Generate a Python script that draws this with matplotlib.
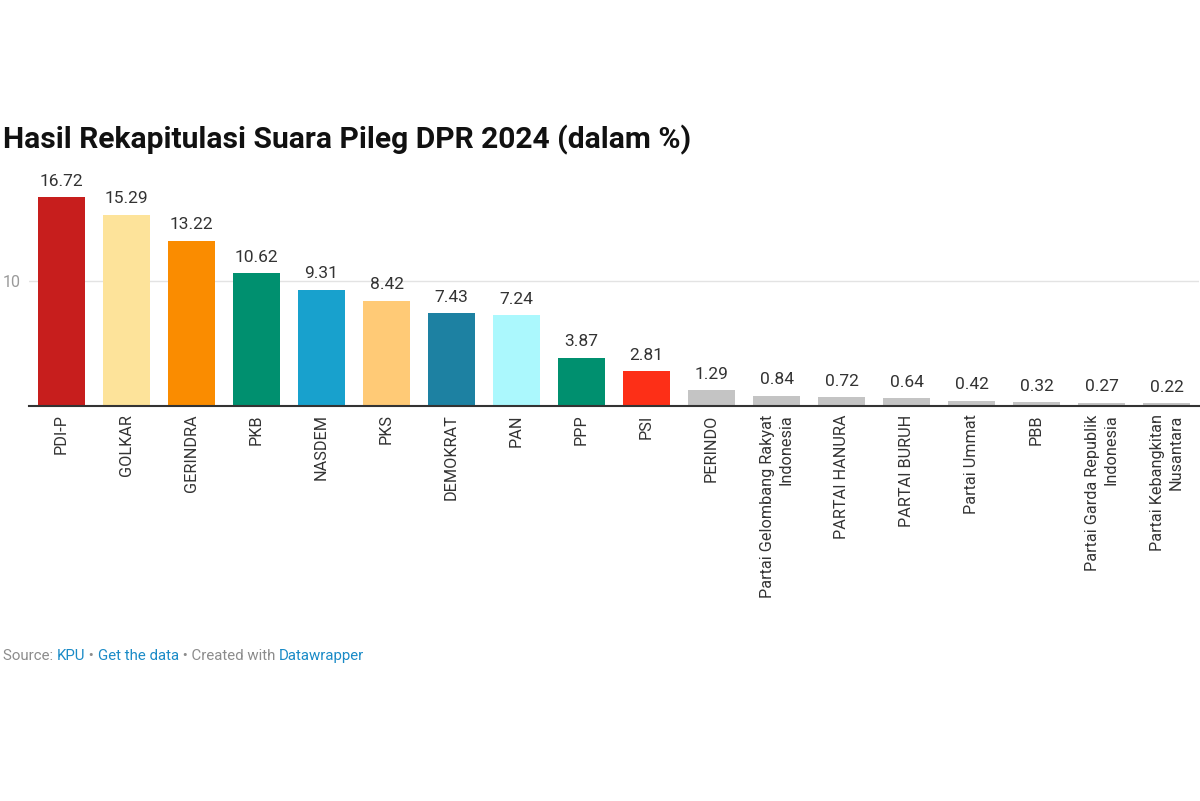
import matplotlib
matplotlib.use("Agg")
import matplotlib.pyplot as plt

plt.rcParams['font.family'] = ['Roboto', 'DejaVu Sans']

parties = ["PDI-P", "GOLKAR", "GERINDRA", "PKB", "NASDEM", "PKS", "DEMOKRAT",
           "PAN", "PPP", "PSI", "PERINDO", "Partai Gelombang Rakyat\nIndonesia",
           "PARTAI HANURA", "PARTAI BURUH", "Partai Ummat", "PBB",
           "Partai Garda Republik\nIndonesia", "Partai Kebangkitan\nNusantara"]
votes = [16.72, 15.29, 13.22, 10.62, 9.31, 8.42, 7.43, 7.24, 3.87, 2.81,
         1.29, 0.84, 0.72, 0.64, 0.42, 0.32, 0.27, 0.22]
colors = ["#c71e1d", "#fde39a", "#fa8c00", "#00906f", "#18a1cd", "#ffca76",
          "#1d81a2", "#abf8fd", "#00906f", "#fd2f17"] + ["#c4c4c4"] * 8

fig = plt.figure(figsize=(12, 8.01), dpi=100)
ax = fig.add_axes([0.0242, 0.4931, 0.975, 0.281])

x = range(len(parties))
bars = ax.bar(x, votes, width=0.71, color=colors, zorder=2)
for b, v in zip(bars, votes):
    ax.annotate(f"{v:.2f}", (b.get_x() + b.get_width() / 2, v),
                xytext=(0, 6), textcoords="offset points",
                ha="center", va="bottom", fontsize=12.5, color="#333333")

ax.set_xlim(-0.5, len(parties) - 0.5)
ax.set_ylim(0, 18)
ax.set_yticks([10])
ax.grid(axis="y", color="#e3e3e3", linewidth=1, zorder=0)
ax.tick_params(axis="y", length=0, pad=6, labelsize=11.5, labelcolor="#9a9a9a")
ax.tick_params(axis="x", length=0, pad=6)
ax.set_xticks(list(x))
ax.set_xticklabels(parties, rotation=90, fontsize=11.7, color="#333333",
                   multialignment="right", linespacing=1.3)
for s in ["top", "right", "left"]:
    ax.spines[s].set_visible(False)
ax.spines["bottom"].set_color("#333333")
ax.spines["bottom"].set_linewidth(1.5)
ax.spines["bottom"].set_zorder(3)

fig.text(3 / 1200, 1 - 140 / 801, "Hasil Rekapitulasi Suara Pileg DPR 2024 (dalam %)",
         fontsize=21.6, fontweight="bold", color="#111111", va="center", ha="left")

# footer, pieces placed one after another
grey, blue = "#8c8c8c", "#1a8bc7"
parts = [("Source: ", grey), ("KPU", blue), (" • ", grey), ("Get the data", blue),
         (" • Created with ", grey), ("Datawrapper", blue)]
fig.canvas.draw()
r = fig.canvas.get_renderer()
xpos = 3
for txt, col in parts:
    t = fig.text(xpos / 1200, 1 - 656 / 801, txt, fontsize=10.8, color=col,
                 va="center", ha="left")
    xpos += t.get_window_extent(r).width

fig.savefig("out.png", dpi=100, facecolor="white")
